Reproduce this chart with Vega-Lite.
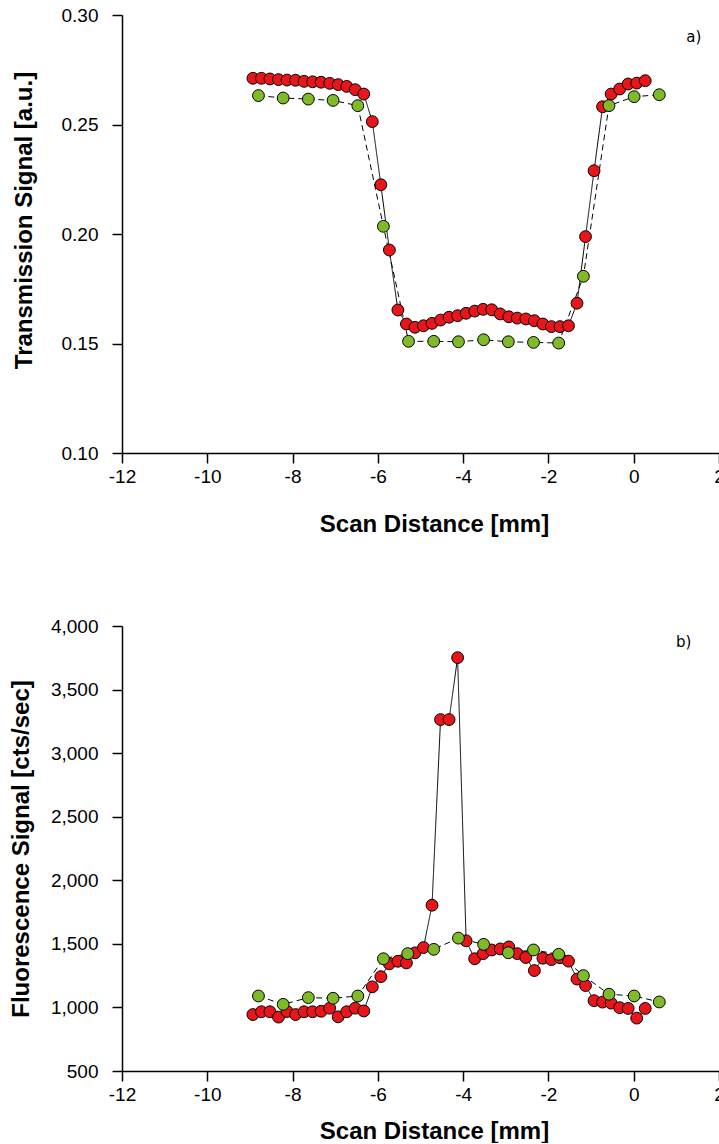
{
  "$schema": "https://vega.github.io/schema/vega-lite/v6.json",
  "background": "white",
  "padding": {"left": 8, "top": 6, "right": 0, "bottom": 0},
  "spacing": 173,
  "bounds": "flush",
  "config": {
    "view": {"stroke": null},
    "font": "Liberation Sans",
    "axis": {
      "grid": false,
      "domainColor": "black",
      "domainWidth": 1.5,
      "tickColor": "black",
      "tickWidth": 1.5,
      "tickSize": 10,
      "labelFont": "Liberation Sans",
      "labelFontSize": 19,
      "labelColor": "black",
      "titleFont": "Liberation Sans",
      "titleFontSize": 24,
      "titleFontWeight": "bold",
      "titleColor": "black"
    }
  },
  "datasets": {
    "trans": [
      {"x": -8.93, "y": 0.2711, "series": "red"},
      {"x": -8.73, "y": 0.2711, "series": "red"},
      {"x": -8.53, "y": 0.2708, "series": "red"},
      {"x": -8.33, "y": 0.2705, "series": "red"},
      {"x": -8.13, "y": 0.2703, "series": "red"},
      {"x": -7.93, "y": 0.2702, "series": "red"},
      {"x": -7.73, "y": 0.2697, "series": "red"},
      {"x": -7.53, "y": 0.2695, "series": "red"},
      {"x": -7.33, "y": 0.2693, "series": "red"},
      {"x": -7.13, "y": 0.2688, "series": "red"},
      {"x": -6.93, "y": 0.2682, "series": "red"},
      {"x": -6.73, "y": 0.2674, "series": "red"},
      {"x": -6.53, "y": 0.2659, "series": "red"},
      {"x": -6.33, "y": 0.2639, "series": "red"},
      {"x": -6.13, "y": 0.2513, "series": "red"},
      {"x": -5.93, "y": 0.2225, "series": "red"},
      {"x": -5.73, "y": 0.1927, "series": "red"},
      {"x": -5.53, "y": 0.1653, "series": "red"},
      {"x": -5.33, "y": 0.1589, "series": "red"},
      {"x": -5.13, "y": 0.1574, "series": "red"},
      {"x": -4.93, "y": 0.1581, "series": "red"},
      {"x": -4.73, "y": 0.1592, "series": "red"},
      {"x": -4.53, "y": 0.1607, "series": "red"},
      {"x": -4.33, "y": 0.1620, "series": "red"},
      {"x": -4.13, "y": 0.1627, "series": "red"},
      {"x": -3.93, "y": 0.1638, "series": "red"},
      {"x": -3.73, "y": 0.1648, "series": "red"},
      {"x": -3.53, "y": 0.1656, "series": "red"},
      {"x": -3.33, "y": 0.1654, "series": "red"},
      {"x": -3.13, "y": 0.1635, "series": "red"},
      {"x": -2.93, "y": 0.1622, "series": "red"},
      {"x": -2.73, "y": 0.1616, "series": "red"},
      {"x": -2.53, "y": 0.1612, "series": "red"},
      {"x": -2.33, "y": 0.1604, "series": "red"},
      {"x": -2.13, "y": 0.1589, "series": "red"},
      {"x": -1.93, "y": 0.1577, "series": "red"},
      {"x": -1.73, "y": 0.1577, "series": "red"},
      {"x": -1.53, "y": 0.1581, "series": "red"},
      {"x": -1.33, "y": 0.1684, "series": "red"},
      {"x": -1.13, "y": 0.1988, "series": "red"},
      {"x": -0.93, "y": 0.2289, "series": "red"},
      {"x": -0.73, "y": 0.2581, "series": "red"},
      {"x": -0.53, "y": 0.2639, "series": "red"},
      {"x": -0.33, "y": 0.2662, "series": "red"},
      {"x": -0.13, "y": 0.2685, "series": "red"},
      {"x": 0.07, "y": 0.2689, "series": "red"},
      {"x": 0.27, "y": 0.2700, "series": "red"},
      {"x": -8.80, "y": 0.2632, "series": "green"},
      {"x": -8.22, "y": 0.2621, "series": "green"},
      {"x": -7.63, "y": 0.2616, "series": "green"},
      {"x": -7.05, "y": 0.2610, "series": "green"},
      {"x": -6.47, "y": 0.2586, "series": "green"},
      {"x": -5.87, "y": 0.2035, "series": "green"},
      {"x": -5.28, "y": 0.1510, "series": "green"},
      {"x": -4.69, "y": 0.1510, "series": "green"},
      {"x": -4.11, "y": 0.1508, "series": "green"},
      {"x": -3.52, "y": 0.1517, "series": "green"},
      {"x": -2.94, "y": 0.1508, "series": "green"},
      {"x": -2.35, "y": 0.1505, "series": "green"},
      {"x": -1.76, "y": 0.1502, "series": "green"},
      {"x": -1.18, "y": 0.1807, "series": "green"},
      {"x": -0.58, "y": 0.2586, "series": "green"},
      {"x": 0.01, "y": 0.2627, "series": "green"},
      {"x": 0.60, "y": 0.2636, "series": "green"}
    ],
    "fluor": [
      {"x": -8.93, "y": 944, "series": "red"},
      {"x": -8.73, "y": 966, "series": "red"},
      {"x": -8.53, "y": 966, "series": "red"},
      {"x": -8.33, "y": 924, "series": "red"},
      {"x": -8.13, "y": 968, "series": "red"},
      {"x": -7.93, "y": 944, "series": "red"},
      {"x": -7.73, "y": 966, "series": "red"},
      {"x": -7.53, "y": 966, "series": "red"},
      {"x": -7.33, "y": 970, "series": "red"},
      {"x": -7.13, "y": 994, "series": "red"},
      {"x": -6.93, "y": 926, "series": "red"},
      {"x": -6.73, "y": 966, "series": "red"},
      {"x": -6.53, "y": 994, "series": "red"},
      {"x": -6.33, "y": 972, "series": "red"},
      {"x": -6.13, "y": 1162, "series": "red"},
      {"x": -5.93, "y": 1242, "series": "red"},
      {"x": -5.73, "y": 1343, "series": "red"},
      {"x": -5.53, "y": 1363, "series": "red"},
      {"x": -5.33, "y": 1350, "series": "red"},
      {"x": -5.13, "y": 1429, "series": "red"},
      {"x": -4.93, "y": 1471, "series": "red"},
      {"x": -4.73, "y": 1804, "series": "red"},
      {"x": -4.53, "y": 3264, "series": "red"},
      {"x": -4.33, "y": 3264, "series": "red"},
      {"x": -4.13, "y": 3751, "series": "red"},
      {"x": -3.93, "y": 1524, "series": "red"},
      {"x": -3.73, "y": 1383, "series": "red"},
      {"x": -3.53, "y": 1423, "series": "red"},
      {"x": -3.33, "y": 1452, "series": "red"},
      {"x": -3.13, "y": 1460, "series": "red"},
      {"x": -2.93, "y": 1476, "series": "red"},
      {"x": -2.73, "y": 1423, "series": "red"},
      {"x": -2.53, "y": 1393, "series": "red"},
      {"x": -2.33, "y": 1290, "series": "red"},
      {"x": -2.13, "y": 1387, "series": "red"},
      {"x": -1.93, "y": 1376, "series": "red"},
      {"x": -1.73, "y": 1391, "series": "red"},
      {"x": -1.53, "y": 1364, "series": "red"},
      {"x": -1.33, "y": 1223, "series": "red"},
      {"x": -1.13, "y": 1172, "series": "red"},
      {"x": -0.93, "y": 1053, "series": "red"},
      {"x": -0.73, "y": 1042, "series": "red"},
      {"x": -0.53, "y": 1034, "series": "red"},
      {"x": -0.33, "y": 998, "series": "red"},
      {"x": -0.13, "y": 992, "series": "red"},
      {"x": 0.07, "y": 916, "series": "red"},
      {"x": 0.27, "y": 992, "series": "red"},
      {"x": -8.80, "y": 1090, "series": "green"},
      {"x": -8.22, "y": 1024, "series": "green"},
      {"x": -7.63, "y": 1077, "series": "green"},
      {"x": -7.05, "y": 1072, "series": "green"},
      {"x": -6.47, "y": 1090, "series": "green"},
      {"x": -5.87, "y": 1383, "series": "green"},
      {"x": -5.30, "y": 1423, "series": "green"},
      {"x": -4.69, "y": 1457, "series": "green"},
      {"x": -4.11, "y": 1545, "series": "green"},
      {"x": -3.52, "y": 1496, "series": "green"},
      {"x": -2.94, "y": 1430, "series": "green"},
      {"x": -2.35, "y": 1452, "series": "green"},
      {"x": -1.76, "y": 1418, "series": "green"},
      {"x": -1.18, "y": 1250, "series": "green"},
      {"x": -0.58, "y": 1104, "series": "green"},
      {"x": 0.01, "y": 1090, "series": "green"},
      {"x": 0.60, "y": 1043, "series": "green"}
    ]
  },
  "vconcat": [
    {
      "width": 597,
      "height": 438,
      "layer": [
        {
          "data": {"name": "trans"},
          "mark": {"type": "line", "color": "black", "strokeWidth": 1},
          "encoding": {
            "x": {"field": "x", "type": "quantitative", "scale": {"domain": [-12, 2], "nice": false, "zero": false},
              "axis": {"values": [-12, -10, -8, -6, -4, -2, 0, 2], "labelExpr": "replace(datum.label, '\u2212', '-')", "labelFlush": false, "labelPadding": 4, "title": "Scan Distance [mm]", "titleX": 312, "titleY": 59, "titleAlign": "center", "titleBaseline": "top"}},
            "y": {"field": "y", "type": "quantitative", "scale": {"domain": [0.1, 0.3], "nice": false, "zero": false},
              "axis": {"values": [0.1, 0.15, 0.2, 0.25, 0.3], "format": ".2f", "labelPadding": 14, "title": "Transmission Signal [a.u.]", "titleX": -86, "titleY": 205, "titleAlign": "center", "titleBaseline": "bottom", "titleAngle": -90}},
            "detail": {"field": "series", "type": "nominal"},
            "strokeDash": {"field": "series", "type": "nominal", "scale": {"domain": ["red", "green"], "range": [[1, 0], [6, 4]]}, "legend": null}
          }
        },
        {
          "data": {"name": "trans"},
          "mark": {"type": "point", "shape": "circle", "filled": true, "size": 140, "stroke": "black", "strokeWidth": 1, "opacity": 1},
          "encoding": {
            "x": {"field": "x", "type": "quantitative"},
            "y": {"field": "y", "type": "quantitative"},
            "fill": {"field": "series", "type": "nominal", "scale": {"domain": ["red", "green"], "range": ["#E8161B", "#7FBA28"]}, "legend": null}
          }
        },
        {
          "data": {"values": [{"label": "a)"}]},
          "mark": {"type": "text", "font": "DejaVu Sans", "fontSize": 15, "color": "black", "align": "center", "baseline": "middle"},
          "encoding": {
            "x": {"datum": 1.41},
            "y": {"datum": 0.29},
            "text": {"field": "label"}
          }
        }
      ]
    },
    {
      "width": 597,
      "height": 445,
      "layer": [
        {
          "data": {"name": "fluor"},
          "mark": {"type": "line", "color": "black", "strokeWidth": 1},
          "encoding": {
            "x": {"field": "x", "type": "quantitative", "scale": {"domain": [-12, 2], "nice": false, "zero": false},
              "axis": {"values": [-12, -10, -8, -6, -4, -2, 0, 2], "labelExpr": "replace(datum.label, '\u2212', '-')", "labelFlush": false, "labelPadding": 4, "title": "Scan Distance [mm]", "titleX": 312, "titleY": 48, "titleAlign": "center", "titleBaseline": "top"}},
            "y": {"field": "y", "type": "quantitative", "scale": {"domain": [500, 4000], "nice": false, "zero": false},
              "axis": {"values": [500, 1000, 1500, 2000, 2500, 3000, 3500, 4000], "format": ",d", "labelPadding": 14, "title": "Fluorescence Signal [cts/sec]", "titleX": -89, "titleAlign": "center", "titleBaseline": "bottom", "titleAngle": -90}},
            "detail": {"field": "series", "type": "nominal"},
            "strokeDash": {"field": "series", "type": "nominal", "scale": {"domain": ["red", "green"], "range": [[1, 0], [6, 4]]}, "legend": null}
          }
        },
        {
          "data": {"name": "fluor"},
          "mark": {"type": "point", "shape": "circle", "filled": true, "size": 140, "stroke": "black", "strokeWidth": 1, "opacity": 1},
          "encoding": {
            "x": {"field": "x", "type": "quantitative"},
            "y": {"field": "y", "type": "quantitative"},
            "fill": {"field": "series", "type": "nominal", "scale": {"domain": ["red", "green"], "range": ["#E8161B", "#7FBA28"]}, "legend": null}
          }
        },
        {
          "data": {"values": [{"label": "b)"}]},
          "mark": {"type": "text", "font": "DejaVu Sans", "fontSize": 15, "color": "black", "align": "center", "baseline": "middle"},
          "encoding": {
            "x": {"datum": 1.17},
            "y": {"datum": 3872},
            "text": {"field": "label"}
          }
        }
      ]
    }
  ]
}
